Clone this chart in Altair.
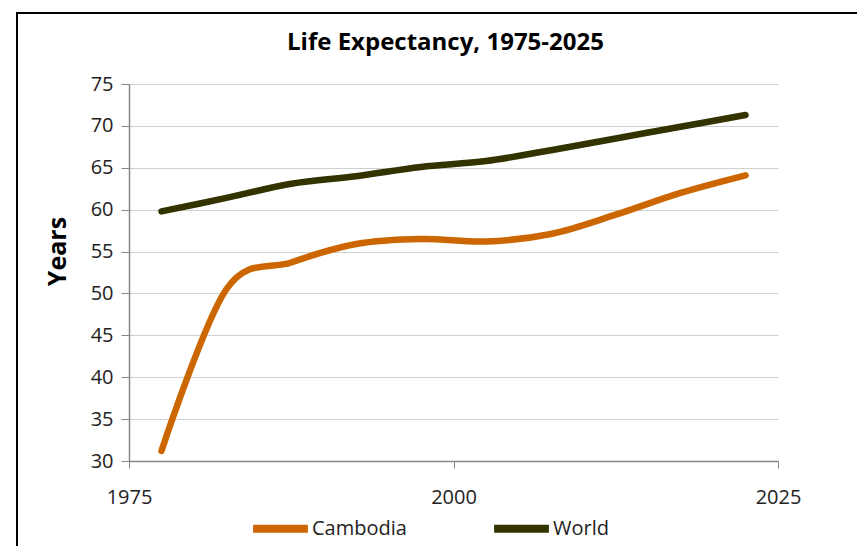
import altair as alt
import pandas as pd

years = [1977.5, 1982.5, 1987.5, 1992.5, 1997.5, 2002.5, 2007.5, 2012.5, 2017.5, 2022.5]
cambodia = [31.2, 50.5, 53.7, 55.9, 56.5, 56.2, 57.1, 59.4, 62.0, 64.1]
world = [59.8, 61.4, 63.1, 64.0, 65.1, 65.8, 67.1, 68.5, 69.9, 71.3]
series = ["Cambodia", "World"]
colors = ["#CC6600", "#333300"]
x_ticks = [1975, 2000, 2025]
y_ticks = [30, 35, 40, 45, 50, 55, 60, 65, 70, 75]

rows = []
for y, c, w in zip(years, cambodia, world):
    rows.append({"year": y, "series": "Cambodia", "value": c})
    rows.append({"year": y, "series": "World", "value": w})
df = pd.DataFrame(rows)

FONT = "Open Sans"

lines = alt.Chart(df).mark_line(
    interpolate="cardinal", strokeWidth=6.5, strokeCap="round"
).encode(
    x=alt.X("year:Q", scale=alt.Scale(domain=[1975, 2025], nice=False, zero=False),
            axis=alt.Axis(values=x_ticks, format="d", title=None, grid=False,
                          labelFontSize=20, labelPadding=19, tickSize=7,
                          labelFlush=False, labelOverlap=False,
                          labelColor="#222222", labelFont=FONT)),
    y=alt.Y("value:Q", scale=alt.Scale(domain=[30, 75], nice=False, zero=False),
            axis=alt.Axis(values=y_ticks, title="Years", grid=True,
                          labelFontSize=20, labelPadding=8, tickSize=8,
                          labelFlush=False, labelOverlap=False,
                          labelColor="#222222", labelFont=FONT,
                          titleFont=FONT, titleFontSize=25, titleFontWeight="bold",
                          titleColor="#000000", titleAngle=-90,
                          titleX=-72, titleY=167, titleAlign="center",
                          titleBaseline="middle")),
    color=alt.Color("series:N", scale=alt.Scale(domain=series, range=colors),
                    legend=alt.Legend(title=None, orient="none", direction="horizontal",
                                      legendX=120, legendY=413,
                                      symbolType="stroke", symbolSize=3000,
                                      symbolStrokeWidth=8, labelFontSize=20,
                                      labelFont=FONT, labelColor="#222222",
                                      labelOffset=0, columnPadding=71)),
)

frame = alt.Chart(pd.DataFrame({"k": [0]})).mark_rect(
    fill=None, stroke="#000000", strokeWidth=2
).encode(
    x=alt.value(-112), x2=alt.value(760), y=alt.value(-71), y2=alt.value(520)
)

chart = alt.layer(frame, lines).properties(
    width=649, height=377,
    autosize=alt.AutoSizeParams(type="none"),
    padding={"left": 121, "top": 76, "right": 79, "bottom": 85},
    title=alt.TitleParams("Life Expectancy, 1975-2025", fontSize=24, font=FONT,
                          fontWeight="bold", color="#000000", offset=-62, dx=-8,
                          baseline="alphabetic", frame="group"),
).configure_view(stroke=None).configure_axis(
    domainColor="#868686", domainWidth=1.5, tickColor="#868686",
    gridColor="#D0D0D0", gridWidth=1
)

chart.save("out.html", embed_options={"renderer": "svg", "actions": False})
